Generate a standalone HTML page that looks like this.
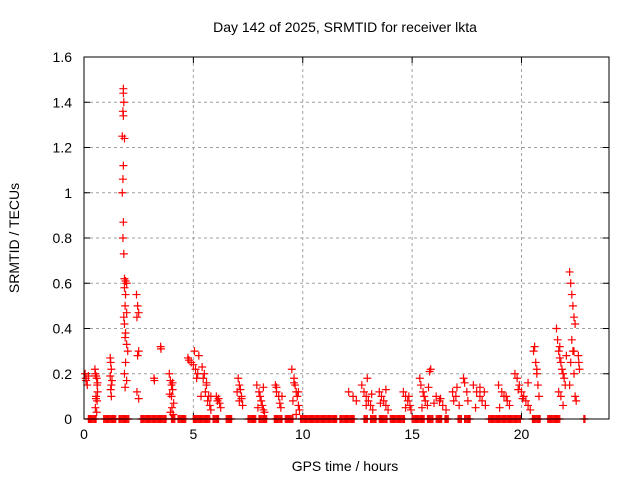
<!DOCTYPE html>
<html><head><meta charset="utf-8"><style>
body{margin:0;background:#fff}
svg text{font-family:"Liberation Sans",sans-serif;font-size:14px;fill:#000}
</style></head><body>
<svg id="chart" width="640" height="480" xmlns="http://www.w3.org/2000/svg">
<rect width="640" height="480" fill="#fff"/>
<text x="345" y="32" text-anchor="middle">Day 142 of 2025, SRMTID for receiver lkta</text>
<text x="345" y="471" text-anchor="middle">GPS time / hours</text>
<text transform="translate(19,238) rotate(-90)" text-anchor="middle">SRMTID / TECUs</text>
<g id="grid"></g><g id="ticks"></g><g id="marks"></g>
<rect x="84" y="57" width="525" height="362" fill="none" stroke="#000" stroke-width="1"/>
</svg>
<script>
const xTicks=[0,5,10,15,20];
const yTicks=[0,0.2,0.4,0.6,0.8,1,1.2,1.4,1.6];
const yTickLabels=["0","0.2","0.4","0.6","0.8","1","1.2","1.4","1.6"];
const times=[0.05,0.08,0.1,0.15,0.2,
0.5,0.52,0.55,0.58,0.6,0.62,0.55,0.6,0.52,0.58,
1.2,1.22,1.25,1.2,1.28,1.22,1.25,
1.8,1.8,1.82,1.78,1.8,1.75,1.85,1.8,1.78,1.75,1.8,1.78,1.82,1.85,1.9,1.95,1.85,1.9,1.88,1.95,1.82,1.85,1.9,1.88,1.95,2.0,1.9,1.85,1.95,1.88,
2.4,2.45,2.5,2.42,2.5,2.45,2.42,2.5,
3.2,3.22,3.5,3.52,
3.9,3.95,4.0,4.05,3.92,4.0,4.1,4.02,3.95,4.08,
4.75,4.8,4.9,5.0,5.1,5.2,5.15,5.05,5.25,
5.4,5.5,5.45,5.6,5.55,5.7,5.65,5.75,5.8,
6.05,6.1,6.2,6.25,
7.05,7.1,7.15,7.2,7.1,7.25,
7.9,8.0,8.05,8.1,8.15,8.2,8.25,
8.75,8.8,8.9,8.95,9.0,
9.5,9.6,9.65,9.7,9.75,9.55,9.8,9.85,9.7,
12.1,12.3,12.45,
12.7,12.8,12.9,13.0,13.1,13.2,12.95,
13.5,13.6,13.7,13.8,13.9,
14.6,14.7,14.8,14.9,14.95,
15.35,15.4,15.5,15.55,15.6,15.7,15.8,15.85,
16.1,16.25,16.4,16.55,
16.85,17.0,17.15,
17.35,17.4,17.5,17.55,
17.8,17.95,18.1,18.2,18.35,
18.95,19.1,19.2,19.35,19.45,
19.7,19.8,19.9,20.0,20.1,20.2,20.3,20.4,
20.55,20.6,20.65,20.7,20.75,20.8,
21.6,21.65,21.7,21.75,21.8,21.85,21.9,21.95,22.0,21.7,21.8,21.9,
22.2,22.25,22.3,22.35,22.4,22.45,22.3,22.35,22.25,22.4,22.2,22.45,22.5,
22.6,22.62,22.65,
0.55,0.62,1.25,4.05,5.35,5.6,5.8,6.15,7.2,7.0,8.2,7.95,9.05,8.8,9.8,9.6,12.9,13.15,13.8,13.55,14.85,14.7,15.75,15.45,16.3,16.0,17.05,16.9,17.9,18.3,18.1,19.3,19.0,20.3,19.85,20.05,20.7,21.75,22.05,22.4];
const values=[0.2,0.18,0.17,0.15,0.19,
0.22,0.2,0.19,0.18,0.15,0.12,0.1,0.08,0.05,0.03,
0.27,0.25,0.22,0.19,0.17,0.13,0.1,
1.46,1.44,1.40,1.36,1.34,1.25,1.24,1.12,1.06,1.0,0.87,0.80,0.73,0.62,0.61,0.6,0.58,0.55,0.5,0.47,0.45,0.42,0.38,0.36,0.33,0.3,0.25,0.2,0.17,0.14,
0.55,0.5,0.47,0.45,0.3,0.28,0.12,0.09,
0.18,0.17,0.32,0.31,
0.2,0.17,0.15,0.13,0.11,0.1,0.07,0.05,0.03,0.02,
0.27,0.26,0.25,0.24,0.22,0.2,0.18,0.3,0.28,
0.23,0.2,0.18,0.15,0.12,0.1,0.08,0.06,0.1,
0.1,0.08,0.07,0.05,
0.18,0.15,0.13,0.1,0.08,0.06,
0.15,0.12,0.1,0.08,0.06,0.04,0.03,
0.15,0.12,0.1,0.07,0.05,
0.22,0.18,0.15,0.12,0.1,0.08,0.06,0.04,0.02,
0.12,0.1,0.08,
0.15,0.12,0.1,0.08,0.06,0.04,0.18,
0.12,0.1,0.08,0.06,0.04,
0.12,0.1,0.08,0.06,0.04,
0.18,0.15,0.12,0.1,0.08,0.06,0.21,0.22,
0.1,0.08,0.06,0.04,
0.12,0.1,0.06,
0.18,0.16,0.12,0.08,
0.15,0.12,0.1,0.08,0.06,
0.15,0.12,0.1,0.08,0.06,
0.2,0.18,0.15,0.12,0.1,0.08,0.06,0.04,
0.3,0.32,0.25,0.2,0.15,0.1,
0.4,0.35,0.3,0.27,0.25,0.22,0.2,0.18,0.15,0.12,0.1,0.06,
0.65,0.6,0.55,0.5,0.45,0.42,0.35,0.3,0.25,0.2,0.15,0.1,0.08,
0.28,0.25,0.22,
0.09,0.16,0.15,0.16,0.1,0.16,0.04,0.09,0.09,0.12,0.14,0.05,0.1,0.14,0.12,0.16,0.06,0.11,0.13,0.07,0.1,0.05,0.14,0.05,0.09,0.07,0.14,0.08,0.05,0.12,0.14,0.1,0.05,0.16,0.13,0.09,0.22,0.32,0.28,0.3];
const zeroTimes=[0.2,0.3,0.4,0.5,0.9,1.0,1.1,1.2,1.3,1.4,1.6,1.7,1.8,1.9,2.0,2.6,2.7,2.8,2.9,3.0,3.1,3.2,3.3,3.4,3.5,3.6,3.7,4.0,4.1,4.3,4.4,4.5,4.6,5.0,5.1,5.2,5.3,5.4,5.5,5.6,5.7,5.9,6.0,6.1,6.5,6.6,6.7,7.5,7.6,7.7,7.8,8.0,8.1,8.2,8.3,8.7,8.8,8.9,9.0,9.2,9.3,9.4,9.5,9.9,10.0,10.1,10.2,10.3,10.4,10.5,10.6,10.7,10.8,10.9,11.0,11.1,11.2,11.3,11.4,11.5,11.7,11.8,11.9,12.0,12.1,12.2,12.3,12.8,12.9,13.1,13.2,13.3,13.5,13.6,13.7,13.8,14.0,14.1,14.2,14.3,14.4,14.5,14.6,15.0,15.1,15.2,15.3,15.4,15.5,15.7,15.8,15.9,16.1,16.2,16.3,16.5,16.6,17.1,17.2,17.4,17.5,17.6,18.5,18.6,18.7,18.8,18.9,19.0,19.1,19.2,19.3,19.4,19.5,19.6,19.7,19.8,19.9,20.5,20.6,20.7,20.8,21.2,21.3,21.4,21.5,21.6,21.7,22.85];
const NS="http://www.w3.org/2000/svg";
const X0=84,X1=609,Y0=419,Y1=57;
function xs(t){return X0+(t/24)*(X1-X0);}
function ys(v){return Y0-(v/1.6)*(Y0-Y1);}
function mk(tag,attrs,parent){const e=document.createElementNS(NS,tag);for(const k in attrs)e.setAttribute(k,attrs[k]);parent.appendChild(e);return e;}
const grid=document.getElementById('grid'),ticks=document.getElementById('ticks'),marks=document.getElementById('marks');
xTicks.forEach(t=>{const x=xs(t);
 if(t>0){const g=mk('line',{x1:x,x2:x,y1:Y1,y2:Y0,stroke:'#a0a0a0','stroke-dasharray':'3,3'},grid);
 
 }
 mk('line',{x1:x,x2:x,y1:Y0,y2:Y0-6,stroke:'#000'},ticks);
 mk('line',{x1:x,x2:x,y1:Y1,y2:Y1+6,stroke:'#000'},ticks);
 const l=mk('text',{x:x,y:Y0+20,'text-anchor':'middle'},ticks);l.textContent=t;
 
 });
yTicks.forEach((v,i)=>{const y=ys(v);
 if(v>0&&v<1.6){const g=mk('line',{x1:X0,x2:X1,y1:y,y2:y,stroke:'#a0a0a0','stroke-dasharray':'3,3'},grid);
 
 }
 mk('line',{x1:X0,x2:X0+6,y1:y,y2:y,stroke:'#000'},ticks);
 mk('line',{x1:X1,x2:X1-6,y1:y,y2:y,stroke:'#000'},ticks);
 const l=mk('text',{x:X0-12,y:y+5,'text-anchor':'end'},ticks);l.textContent=yTickLabels[i];
 
 });
function plus(t,v,name){const x=xs(t),y=ys(v);
 const p=mk('path',{d:`M${x-4},${y}H${x+4}M${x},${y-4}V${y+4}`,stroke:'#ff0000','stroke-width':1.2,fill:'none'},marks);
 
 }
zeroTimes.forEach(t=>{plus(t,0,'zero-point');plus(t+0.05,0,'zero-point');});
times.forEach((t,i)=>plus(t,values[i],'srmtid-point'));
</script>
</body></html>
